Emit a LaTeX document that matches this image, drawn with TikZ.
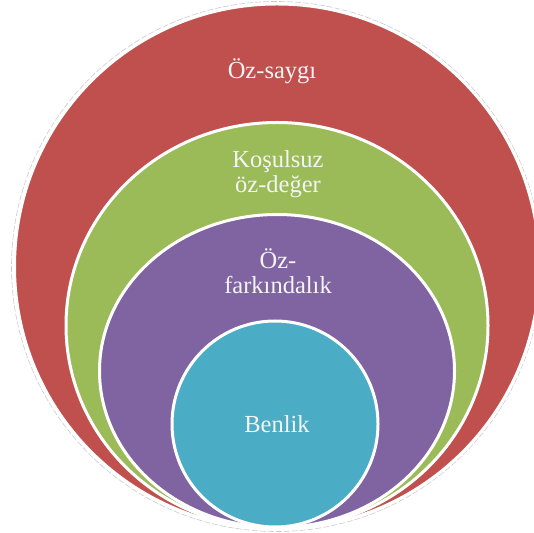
\documentclass[tikz,border=0pt]{standalone}
\usepackage{fontspec}
\setmainfont{Liberation Serif}
\definecolor{redc}{HTML}{C0504D}
\definecolor{greenc}{HTML}{9BBB59}
\definecolor{purplec}{HTML}{8064A2}
\definecolor{bluec}{HTML}{4BACC6}
\definecolor{labelc}{HTML}{F4F4F4}
\tikzset{
  ring/.style={draw=white, line width=3pt},
  lbl/.style={text=labelc, align=center, inner sep=0pt,
    font=\fontsize{24.5}{25}\selectfont}
}
\begin{document}
\begin{tikzpicture}[x=1pt,y=1pt]
\useasboundingbox (0,0) rectangle (534,532);
\fill[white] (0,0) rectangle (534,532);
% outer dashed frame
\draw[gray!40, line width=0.6pt, dash pattern=on 6pt off 2pt] (276.5,265.5) circle (265);
% red
\fill[redc] (277,265.5) circle (262.5);
\begin{scope}
  \clip (277,265.5) circle (262.5);
  \draw[ring, fill=greenc] (277,206.5) ellipse [x radius=211, y radius=203];
  \draw[ring, fill=purplec] (277,161) ellipse [x radius=177.5, y radius=156.5];
  \draw[ring, fill=bluec] (275,108) circle (103);
\end{scope}
\draw[ring] (277,265.5) circle (262.5);
% labels
\node[lbl] (oz) at (272,461) {Öz-saygı};
\node[lbl] (kos) at (278,358) {Koşulsuz\\öz-değer};
\node[lbl] (fark) at (278,261) {Öz-\\farkındalık};
\node[lbl] (ben) at (277,107.5) {Benlik};
\end{tikzpicture}
\end{document}
